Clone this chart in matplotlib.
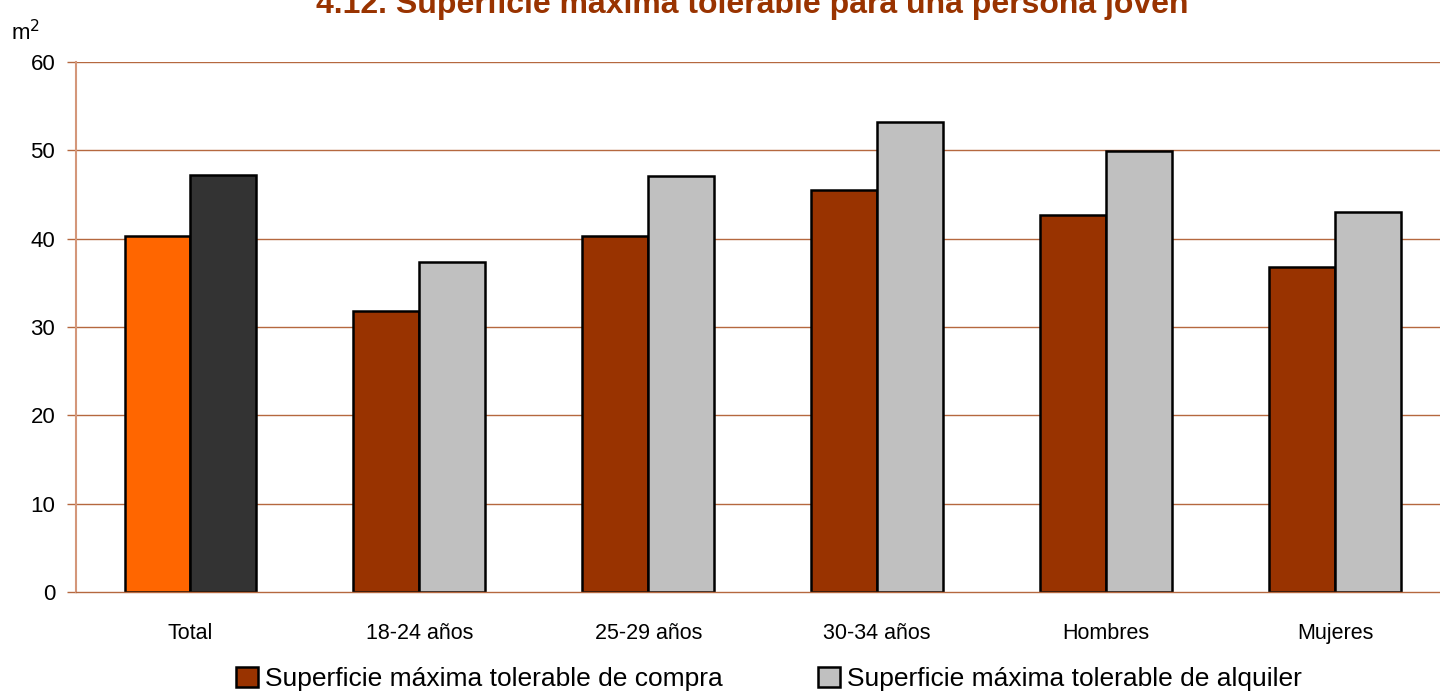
import matplotlib
matplotlib.use("Agg")
import matplotlib.pyplot as plt
import numpy as np
from matplotlib.patches import Patch

categories = ["Total", "18-24 años", "25-29 años", "30-34 años", "Hombres", "Mujeres"]
compra = [40.3, 31.8, 40.3, 45.5, 42.7, 36.8]
alquiler = [47.2, 37.4, 47.1, 53.2, 49.9, 43.0]
yticks = [0, 10, 20, 30, 40, 50, 60]

title = "4.12. Superficie máxima tolerable para una persona joven"
series_names = ["Superficie máxima tolerable de compra", "Superficie máxima tolerable de alquiler"]

FONT = ["Liberation Sans", "DejaVu Sans"]
plt.rcParams['font.family'] = FONT

W, H = 1440, 694
fig = plt.figure(figsize=(W / 100, H / 100), dpi=100)
left_px, right_px, top_px, bottom_px = 76, 1449.5, 62, 592
ax = fig.add_axes([left_px / W, 1 - bottom_px / H, (right_px - left_px) / W, (bottom_px - top_px) / H])

x = np.arange(len(categories))
bw = 0.288
c_colors = ["#FF6600"] + ["#993300"] * (len(categories) - 1)
a_colors = ["#333333"] + ["#C0C0C0"] * (len(categories) - 1)

grid_color = "#B5683F"
for yv in yticks[1:]:
    ax.axhline(yv, color=grid_color, lw=1.0, zorder=1)

ax.bar(x - bw / 2, compra, width=bw, color=c_colors, edgecolor="black", linewidth=1.8, zorder=3)
ax.bar(x + bw / 2, alquiler, width=bw, color=a_colors, edgecolor="black", linewidth=1.8, zorder=3)

ax.set_xlim(-0.5, 5.5)
ax.set_ylim(0, 60)
ax.set_yticks(yticks)
ax.set_yticklabels([str(v) for v in yticks], fontsize=16)
ax.set_xticks(x)
ax.set_xticklabels(categories, fontsize=15.5)
ax.tick_params(axis='x', length=0, pad=22.5)
ax.tick_params(axis='y', length=6.5, width=1.0, color=grid_color, pad=8.5)

for s in ["top", "right"]:
    ax.spines[s].set_visible(False)
ax.spines["left"].set_color("#D4977A")
ax.spines["left"].set_linewidth(1.5)
ax.spines["bottom"].set_color(grid_color)
ax.spines["bottom"].set_linewidth(1.0)
ax.spines["bottom"].set_zorder(4)

fig.text(752 / W, 1 - 13 / H, title, ha="center", va="baseline", fontsize=23,
         fontweight="bold", color="#993300")
fig.text(11 / W, 1 - 40 / H, r"m$^2$", ha="left", va="baseline", fontsize=16)

handles = [Patch(facecolor="#993300", edgecolor="black", linewidth=1.8),
           Patch(facecolor="#C0C0C0", edgecolor="black", linewidth=1.8)]
leg = fig.legend(handles, series_names, loc="center", bbox_to_anchor=(769 / W, 1 - 679 / H),
                 ncol=2, frameon=False, fontsize=19, handlelength=0.82, handleheight=0.82,
                 handletextpad=0.27, columnspacing=3.6, borderpad=0)

fig.savefig("out.png", dpi=100)
